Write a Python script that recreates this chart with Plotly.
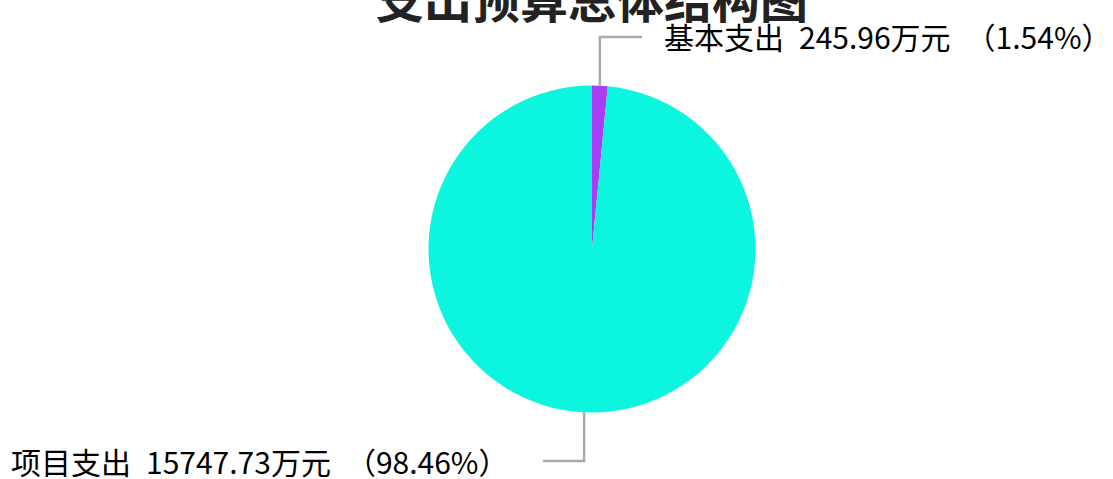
import math
import plotly.graph_objects as go

# ---- data ----
categories = ["基本支出", "项目支出"]
values = [245.96, 15747.73]
unit = "万元"
colors = ["#A93CF5", "#0BF5DF"]
title_text = "支出预算总体结构图"

W, H = 1113, 479
cx, cy, r = 592, 249, 163.5   # pie centre / radius in pixels

total = sum(values)
pcts = [v / total * 100 for v in values]

fig = go.Figure(go.Pie(
    labels=categories,
    values=values,
    sort=False,
    direction="clockwise",
    rotation=0,
    marker=dict(colors=colors, line=dict(width=0)),
    textinfo="none",
    hoverinfo="label+value+percent",
    showlegend=False,
    domain=dict(x=[(cx - r) / W, (cx + r) / W],
                y=[(H - cy - r) / H, (H - cy + r) / H]),
))

def px(x):
    return x / W

def py(y):
    return 1 - y / H

# label layout: elbow y, horizontal end x, text x, text centre y
label_layout = [
    dict(ey=37, hx=642, tx=662, ty=36),
    dict(ey=461, hx=543, tx=9, ty=461),
]

SP = "\u2002"
shapes = []
annotations = []
cum = 0.0
for i, (name, v, p) in enumerate(zip(categories, values, pcts)):
    mid = (cum + v / 2) / total * 2 * math.pi
    cum += v
    ex = cx + r * math.sin(mid)
    ey0 = cy - r * math.cos(mid)
    L = label_layout[i]
    path = f"M {px(ex)} {py(ey0)} L {px(ex)} {py(L['ey'])} L {px(L['hx'])} {py(L['ey'])}"
    shapes.append(dict(type="path", xref="paper", yref="paper", path=path,
                       line=dict(color="#AAAAAA", width=2.5)))
    annotations.append(dict(
        x=px(L["tx"]), y=py(L["ty"]), xref="paper", yref="paper",
        xanchor="left", yanchor="middle", showarrow=False,
        text=f"{name}{SP}{v:.2f}{unit}{SP}（{p:.2f}%）",
        font=dict(family="Noto Sans CJK SC", size=30, color="#000000"),
    ))

annotations.append(dict(
    x=px(592), y=py(34), xref="paper", yref="paper",
    xanchor="center", yanchor="bottom", showarrow=False,
    text=f"<b>{title_text}</b>",
    font=dict(family="Noto Sans CJK SC", size=48, color="#222222"),
))

fig.update_layout(
    width=W, height=H,
    margin=dict(l=0, r=0, t=0, b=0),
    paper_bgcolor="white",
    plot_bgcolor="white",
    shapes=shapes,
    annotations=annotations,
)

fig.write_html("out.html", config={"displayModeBar": False},
               post_script="document.body.style.margin='0';")
